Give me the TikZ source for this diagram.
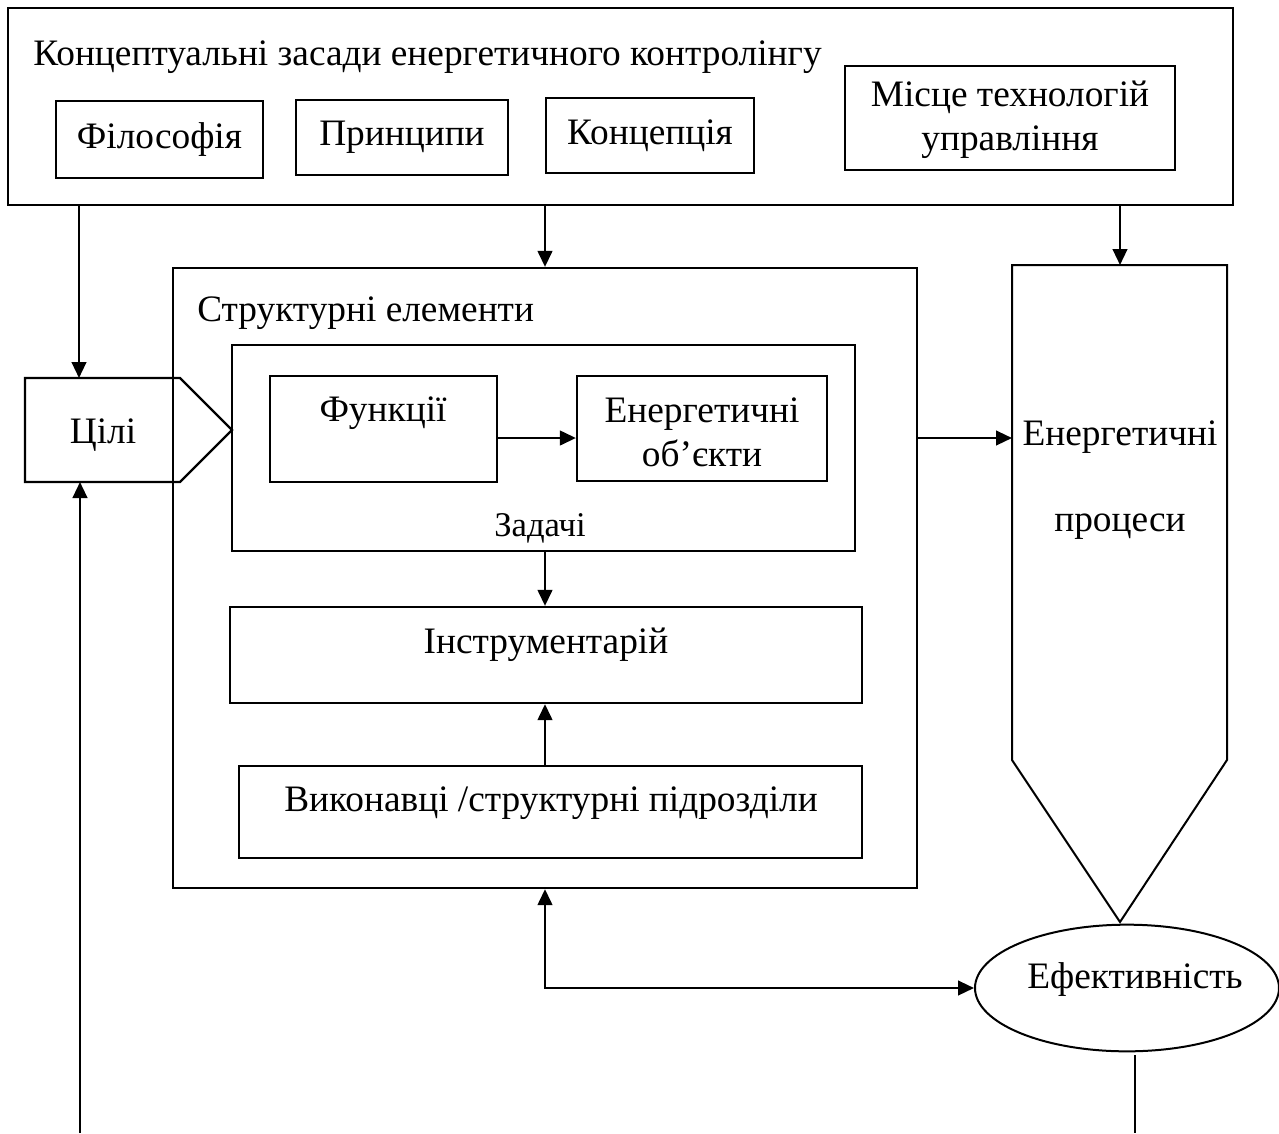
\documentclass[tikz,border=0pt]{standalone}
\usepackage{fontspec}
\setmainfont{Liberation Serif}
\usetikzlibrary{arrows.meta,shapes.geometric,fit}
\begin{document}
\begin{tikzpicture}[x=0.75pt,y=-0.75pt,
  box/.style={draw,line width=1.7pt,inner sep=0pt},
  area/.style={inner sep=0pt,outer sep=0pt},
  txt/.style={inner sep=0pt,font=\fontsize{28}{33}\selectfont,align=center},
  small/.style={inner sep=0pt,font=\fontsize{26}{30}\selectfont},
  arr/.style={line width=1.7pt,-{Triangle[length=12pt,width=11pt]}},
  darr/.style={line width=1.7pt,{Triangle[length=12pt,width=11pt]}-{Triangle[length=12pt,width=11pt]}},
]
\useasboundingbox (0,0) rectangle (1279,1133);
\fill[white] (0,0) rectangle (1279,1133);

% top box
\node[box,fit={(8,8) (1233,205)}] (top) {};
\node[txt,anchor=west] (title) at (33,57) {Концептуальні засади енергетичного контролінгу};
\node[box,fit={(56,101) (263,178)}] (fil) {};
\node[txt] (filt) at (fil.center) {Філософія};
\node[box,fit={(296,100) (508,175)}] (pri) {};
\node[txt] (prit) at (pri.center) {Принципи};
\node[box,fit={(546,98) (754,173)}] (kon) {};
\node[txt] (kont) at (kon.center) {Концепція};
\node[box,fit={(845,66) (1175,170)}] (mis) {};
\node[txt] (mist) at (1010,120) {Місце технологій\\управління};

% goals pentagon
\node[area,fit={(25,378) (232,482)}] (goal) {};
\draw[line width=1.7pt,line join=miter] (25,378) -- (180,378) -- (232,430) -- (180,482) -- (25,482) -- cycle;
\node[txt] (goalt) at (103,435) {Цілі};

% structural elements
\node[box,fit={(173,268) (917,888)}] (str) {};
\node[txt,anchor=west] (strt) at (197,313) {Структурні елементи};
\node[box,fit={(232,345) (855,551)}] (zad) {};
\node[small] (zadt) at (540,528) {Задачі};
\node[box,fit={(270,376) (497,482)}] (fun) {};
\node[txt] (funt) at (383,413) {Функції};
\node[box,fit={(577,376) (827,481)}] (obj) {};
\node[txt] (objt) at (702,432) {Енергетичні\\об’єкти};
\node[box,fit={(230,607) (862,703)}] (ins) {};
\node[txt] (inst) at (546,645) {Інструментарій};
\node[box,fit={(239,766) (862,858)}] (vyk) {};
\node[txt] (vykt) at (551,803) {Виконавці /структурні підрозділи};

% energy processes
\node[area,fit={(1012,265) (1227,922)}] (ep) {};
\draw[line width=1.5pt,line join=miter] (1012,265) -- (1227,265) -- (1227,760) -- (1120,922) -- (1012,760) -- cycle;
\node[txt] (ept1) at (1120,437) {Енергетичні};
\node[txt] (ept2) at (1120,527) {процеси};

% efficiency
\node[draw,ellipse,line width=1.5pt,inner sep=0pt,minimum width=228pt,minimum height=95pt] (eff) at (1127,988) {};
\node[txt] (efft) at (1135,980) {Ефективність};

% connectors
\draw[arr] (79,0 |- top.south) -- (79,0 |- goal.north);
\draw[arr] (545,0 |- top.south) -- (545,0 |- str.north);
\draw[arr] (1120,0 |- top.south) -- (1120,0 |- ep.north);
\draw[arr] (80,1133) -- (80,0 |- goal.south);
\draw[arr] (fun.east |- 0,438) -- (obj.west |- 0,438);
\draw[arr] (545,0 |- zad.south) -- (545,0 |- ins.north);
\draw[arr] (545,0 |- vyk.north) -- (545,0 |- ins.south);
\draw[arr] (str.east |- 0,438) -- (ep.west |- 0,438);
\draw[darr] (545,0 |- str.south) -- (545,988) -- (eff.west);
\draw[line width=1.5pt] (1135,0 |- eff.south) ++(0,3) -- (1135,1133);
\end{tikzpicture}
\end{document}
